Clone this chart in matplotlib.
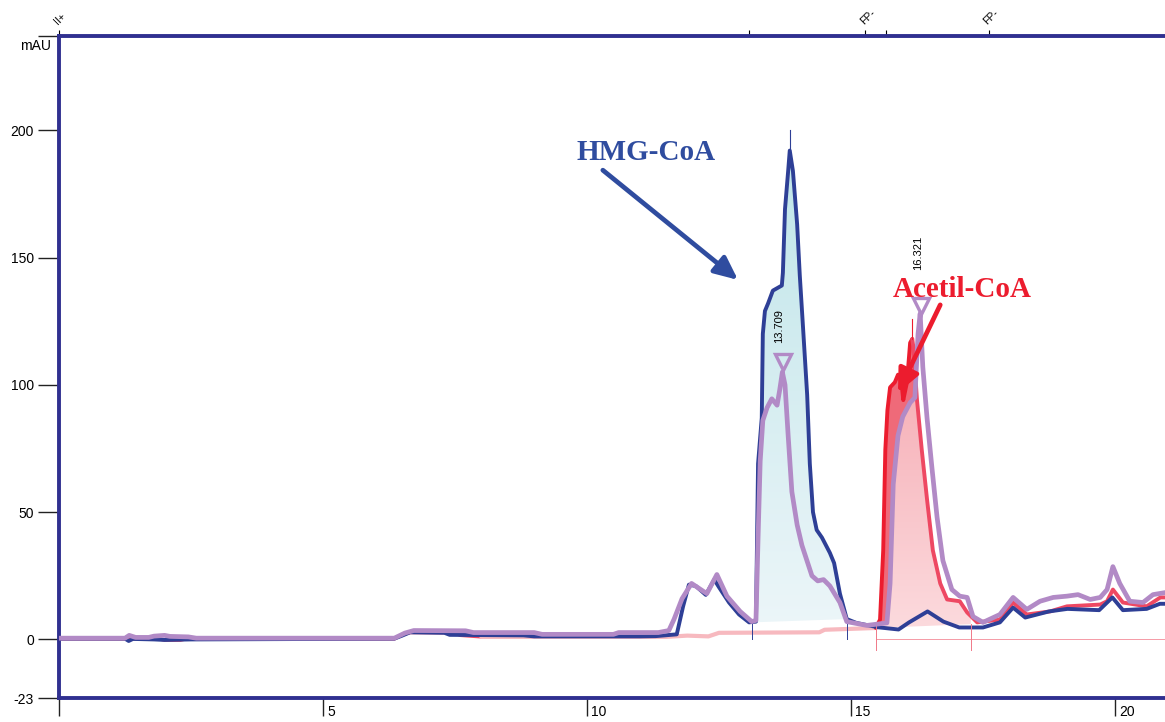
import numpy as np
import matplotlib
matplotlib.use("Agg")
import matplotlib.pyplot as plt
from matplotlib.colors import LinearSegmentedColormap

plt.rcParams["font.family"] = ["Liberation Sans", "DejaVu Sans"]

# ── cromatogramas (tiempo en min, señal en mAU) ─────────────────────
blue_t = [0.0, 1.25, 1.32, 1.40, 1.8, 2.0, 2.5, 6.35, 6.5, 6.65, 7.3, 7.4, 8.8, 9.0,
          11.0, 11.3, 11.7, 11.82, 11.93, 12.06, 12.25, 12.41, 12.5, 12.69, 12.88,
          13.07, 13.2, 13.24, 13.31, 13.33, 13.37, 13.43, 13.52, 13.69, 13.71, 13.75,
          13.81, 13.84, 13.9, 13.98, 14.03, 14.09, 14.17, 14.22, 14.28, 14.35, 14.45,
          14.6, 14.68, 14.79, 14.92, 15.1, 15.5, 15.9, 16.1, 16.45, 16.75, 17.05, 17.5,
          17.82, 18.07, 18.3, 18.75, 19.1, 19.7, 19.95, 20.15, 20.6, 20.85, 21.2]
blue_v = [0.3, 0.3, -0.6, 0.2, 0.0, -0.2, 0.0, 0.3, 1.5, 2.8, 2.6, 1.8, 1.6, 1.2,
          1.2, 1.3, 2.0, 13, 21.5, 21, 17.5, 23.5, 20.5, 14.5, 9.8,
          6.7, 7, 69, 87, 120, 129, 132, 137, 139, 144, 169,
          184, 192, 184, 163, 143, 123, 96, 69, 50, 43, 40,
          34, 30, 18, 8, 6.5, 4.8, 3.9, 6.7, 11, 7, 4.7, 4.7,
          6.7, 12.5, 8.6, 11, 12, 11.5, 16.5, 11.5, 12, 14, 14]

purple_t = [0.0, 1.25, 1.33, 1.45, 1.7, 1.8, 2.0, 2.1, 2.45, 2.6, 6.35, 6.55, 6.72,
            7.7, 7.85, 9.0, 9.15, 10.5, 10.6, 11.35, 11.55, 11.65, 11.8, 11.98, 12.27,
            12.46, 12.65, 12.9, 13.12, 13.2, 13.24, 13.28, 13.33, 13.41, 13.5, 13.6,
            13.65, 13.7, 13.75, 13.81, 13.88, 13.98, 14.07, 14.26, 14.37, 14.48, 14.6,
            14.79, 14.92, 15.3, 15.68, 15.74, 15.8, 15.89, 15.98, 16.12, 16.21, 16.27,
            16.31, 16.36, 16.44, 16.53, 16.63, 16.74, 16.91, 17.06, 17.2, 17.31, 17.5,
            17.82, 18.07, 18.33, 18.58, 18.83, 19.09, 19.3, 19.53, 19.72, 19.85, 19.96,
            20.09, 20.28, 20.53, 20.72, 20.95, 21.2]
purple_v = [0.5, 0.5, 1.6, 0.8, 0.8, 1.3, 1.6, 1.2, 1.0, 0.5, 0.5, 2.5, 3.5,
            3.4, 2.7, 2.7, 2.0, 2.0, 2.7, 2.7, 3.5, 8, 16, 22, 18,
            25.5, 17, 11, 7, 7.5, 40, 70, 86, 91, 94.5, 92,
            98, 105, 100, 80, 58, 45, 37, 25, 23, 23.5, 21,
            14.5, 7, 5.5, 6.5, 22, 61, 80, 87.5, 93, 95, 120,
            128, 107, 87, 68, 48, 31, 19.6, 17, 16.5, 9, 6.7,
            9.8, 16.5, 11.8, 15, 16.5, 17, 17.6, 15.7, 16.5, 19.6, 28.6,
            22, 15, 14.5, 17.6, 18.4, 18.4]

red_t = [0.0, 1.9, 2.0, 2.3, 2.4, 6.35, 6.5, 6.65, 7.5, 7.6, 8.0, 11.5, 11.9, 12.3,
         12.5, 14.4, 14.5, 15.47, 15.55, 15.61, 15.65, 15.69, 15.74, 15.83, 15.89,
         15.93, 15.97, 15.99, 16.06, 16.12, 16.16, 16.18, 16.25, 16.34, 16.44, 16.55,
         16.69, 16.82, 17.06, 17.2, 17.39, 17.82, 18.07, 18.33, 18.77, 19.09, 19.72,
         19.85, 19.96, 20.15, 20.6, 20.86, 21.2]
red_v = [0.2, 0.2, -0.3, -0.3, 0.2, 0.2, 1.8, 2.7, 2.6, 1.6, 1.0, 1.0, 1.5, 1.2,
         2.6, 2.8, 3.8, 4.5, 7.8, 35, 74.5, 90, 99, 101, 104,
         103, 98, 94, 101, 116.5, 118, 115, 94, 74.5, 55, 35,
         22, 15.7, 15, 10.6, 6.7, 7.8, 14.5, 9.8, 11, 13, 13.7,
         15, 19.6, 14.5, 13, 16.5, 16.5]

# integración: límites y línea base
hmg_lim = [13.12, 14.92]
hmg_base = [6.7, 8.0]
ace_lim = [15.47, 17.27]
ace_base = [4.5, 6.0]

# ápices marcados
peak_t = [13.709, 16.321]
peak_lbl = ["13.709", "16.321"]
peak_mark_v = [109, 131]
apex_t = [13.84, 16.16]
apex_v = [(192, 200), (118, 126)]

# eventos en el eje superior
event_t = [0.0, 13.07, 15.27, 15.66, 17.61]
event_lbl = ["II+", "", "FP-", "", "FP-"]

C_BLUE = "#2E3F96"
C_TXT_BLUE = "#2F4C9F"
C_PURPLE = "#B28AC6"
C_RED = "#EC1C2E"
C_RED2 = "#EE4862"
C_PINK = "#F7B9BF"
C_SPINE = "#303090"


def grad_fill(ax, x, lo, hi, c_top, c_bot, vmax, z):
    poly = ax.fill_between(x, lo, hi, color="none", lw=0)
    cmap = LinearSegmentedColormap.from_list("g", [c_bot, c_top])
    g = np.linspace(0, 1, 256).reshape(-1, 1)
    im = ax.imshow(g, extent=[x[0], x[-1], 0, vmax], origin="lower",
                   aspect="auto", cmap=cmap, zorder=z)
    im.set_clip_path(poly.get_paths()[0], transform=ax.transData)


def seg(t, v, a, b):
    t = np.asarray(t); v = np.asarray(v)
    m = (t >= a) & (t <= b)
    return t[m], v[m]


fig = plt.figure(figsize=(11.65, 7.22), dpi=100)
ax = fig.add_axes([59 / 1165, 1 - 698 / 722, 21.2 * 52.8 / 1165, 662 / 722])

# ── áreas integradas ────────────────────────────────────────────────
g = np.linspace(hmg_lim[0], hmg_lim[1], 400)
base = np.interp(g, hmg_lim, hmg_base)
grad_fill(ax, g, base, np.interp(g, blue_t, blue_v), "#BFE5E9", "#EDF6F9", 195, 1)

g = np.linspace(ace_lim[0], ace_lim[1], 400)
base = np.interp(g, ace_lim, ace_base)
r = np.interp(g, red_t, red_v)
p = np.interp(g, purple_t, purple_v)
grad_fill(ax, g, base, np.maximum(np.minimum(r, p), base), "#F5A3AC", "#FCDCDF", 130, 1)
ax.fill_between(g, p, r, where=r > p, color="#EF6A79", lw=0, zorder=1.5)

# ── trazas ──────────────────────────────────────────────────────────
kw = dict(solid_joinstyle="round", solid_capstyle="round")
t, v = seg(red_t, red_v, 0, 8.0)
ax.plot(t, v, color=C_RED2, lw=2.4, zorder=2, **kw)
t, v = seg(red_t, red_v, 8.0, 15.47)
ax.plot(t, v, color=C_PINK, lw=3.0, zorder=2, **kw)
t, v = seg(red_t, red_v, 15.47, 16.16)
ax.plot(t, v, color=C_RED, lw=2.8, zorder=3, **kw)
t, v = seg(red_t, red_v, 16.16, 21.2)
ax.plot(t, v, color=C_RED2, lw=2.8, zorder=3, **kw)
ax.plot([ace_lim[0], 21.2], [0, 0], color="#F59AA6", lw=0.7, zorder=1)

ax.plot(blue_t, blue_v, color=C_BLUE, lw=2.8, zorder=4, **kw)
ax.plot(purple_t, purple_v, color=C_PURPLE, lw=3.4, zorder=5, **kw)

# límites de integración y ápices
for x in hmg_lim:
    ax.plot([x, x], [0, 8], color=C_BLUE, lw=0.7, zorder=4)
for x in ace_lim:
    ax.plot([x, x], [-4, 6], color="#F07888", lw=0.7, zorder=4)
ax.plot([apex_t[0]] * 2, apex_v[0], color=C_BLUE, lw=0.8, zorder=4)
ax.plot([apex_t[1]] * 2, apex_v[1], color=C_RED, lw=0.8, zorder=4)

ax.plot(peak_t, peak_mark_v, ls="none", marker="v", ms=11, mfc="none",
        mec=C_PURPLE, mew=2.4, zorder=6)
ax.text(peak_t[0] - 0.07, 123, peak_lbl[0], rotation=90, ha="center",
        va="center", fontsize=8, zorder=6)
ax.text(peak_t[1] - 0.05, 152, peak_lbl[1], rotation=90, ha="center",
        va="center", fontsize=8, zorder=6)

# ── rótulos ─────────────────────────────────────────────────────────
ax.text(11.12, 191.4, "HMG-CoA", color=C_TXT_BLUE, fontsize=21,
        family="Liberation Serif", weight="bold", ha="center", va="center", zorder=7)
ax.annotate("", xy=(12.86, 141.2), xytext=(10.3, 184.3),
            arrowprops=dict(arrowstyle="-|>,head_length=0.7,head_width=0.32",
                            mutation_scale=20, lw=3.4, color=C_TXT_BLUE,
                            shrinkA=0, shrinkB=0), zorder=8)
ax.text(17.1, 137.5, "Acetil-CoA", color=C_RED, fontsize=21,
        family="Liberation Serif", weight="bold", ha="center", va="center", zorder=7)
ax.annotate("", xy=(15.89, 96.9), xytext=(16.69, 131.4),
            arrowprops=dict(arrowstyle="-|>,head_length=0.7,head_width=0.32",
                            mutation_scale=20, lw=3.4, color=C_RED,
                            shrinkA=0, shrinkB=0), zorder=8)

# ── ejes ────────────────────────────────────────────────────────────
ax.set_xlim(0, 21.2)
ax.set_ylim(-23, 237)
for s in ("left", "top", "bottom"):
    ax.spines[s].set_color(C_SPINE)
    ax.spines[s].set_linewidth(2.8)
ax.spines["right"].set_visible(False)

ax.set_yticks([-23, 0, 50, 100, 150, 200, 237],
              labels=["-23", "0", "50", "100", "150", "200", ""])
ax.tick_params(axis="y", length=15, width=1, color="#222222", labelsize=10, pad=3)
ax.annotate("mAU", xy=(0, 233), xycoords=("axes fraction", "data"),
            xytext=(-6, 0), textcoords="offset points", ha="right", va="center",
            fontsize=10)

xt = [0, 5, 10, 15, 20]
ax.set_xticks(xt, labels=[""] * len(xt))
ax.tick_params(axis="x", length=13, width=1, color="#222222")
for x in xt[1:]:
    ax.annotate(str(x), xy=(x, 0), xycoords=("data", "axes fraction"),
                xytext=(3, -5), textcoords="offset points", ha="left", va="top",
                fontsize=10)

sec = ax.secondary_xaxis("top")
sec.set_xticks(event_t, labels=event_lbl)
sec.tick_params(length=4, width=0.8, pad=3, labelsize=7.5)
sec.spines["top"].set_visible(False)
for lab in sec.get_xticklabels():
    lab.set_rotation(45)
    lab.set_ha("left")
    lab.set_rotation_mode("anchor")

fig.savefig("out.png", dpi=100)
